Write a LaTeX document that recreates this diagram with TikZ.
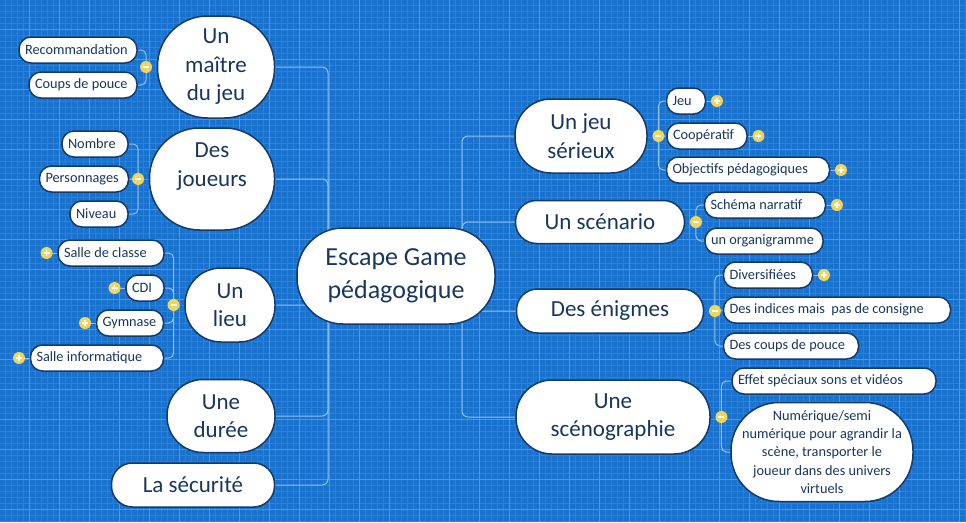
\documentclass[tikz,border=0pt]{standalone}
\usepackage{fontspec}
\setmainfont{Carlito}
\usetikzlibrary{positioning}
\definecolor{paperblue}{HTML}{1872CE}
\definecolor{fineline}{HTML}{2C81D6}
\definecolor{coarseline}{HTML}{4A98E2}
\definecolor{linkblue}{HTML}{8CC3EE}
\definecolor{inkish}{HTML}{17375E}
\definecolor{rimish}{HTML}{133A68}
\definecolor{knobish}{HTML}{F1D55B}
\newcommand\hubfont{\fontsize{26}{33}\selectfont}
\newcommand\topicfont{\fontsize{23}{28.5}\selectfont}
\newcommand\leaffont{\fontsize{14.3}{18.3}\selectfont}
\pgfdeclarelayer{paper}
\pgfdeclarelayer{background}
\pgfsetlayers{paper,background,main}

\begin{document}
\begin{tikzpicture}[
   x=1pt, y=-1pt,
   every node/.append style={align=center, text=inkish},
   box/.style={draw=rimish, fill=white, line width=1.5pt, inner sep=0pt},
   hub/.style={box, font=\hubfont, minimum width=198pt, minimum height=96pt, rounded corners=46pt},
   topic/.style={box, font=\topicfont, rounded corners=#1},
   leaf/.style={box, font=\leaffont, minimum height=26pt, rounded corners=12pt,
      inner xsep=6pt, text width=#1-12pt, align=flush left},
   knob/.style={circle, fill=knobish, inner sep=0pt, minimum size=12pt},
   knobminus/.style={knob, path picture={\draw[white, line width=1.2pt]
      ([xshift=-3pt]path picture bounding box.center) -- ([xshift=3pt]path picture bounding box.center);}},
   knobplus/.style={knob, path picture={\draw[white, line width=1.2pt]
      ([xshift=-3pt]path picture bounding box.center) -- ([xshift=3pt]path picture bounding box.center)
      ([yshift=-3pt]path picture bounding box.center) -- ([yshift=3pt]path picture bounding box.center);}},
   link/.style={draw=linkblue, line width=1pt, rounded corners=6pt},
   node distance=4.5pt
]

\useasboundingbox (0,0) rectangle (966,522);

% blueprint paper
\begin{pgfonlayer}{paper}
  \fill[paperblue] (0,0) rectangle (966,522);
  \foreach \x in {5,11,...,965} \draw[fineline, line width=0.7pt] (\x,0) -- (\x,522);
  \foreach \y in {5,11,...,521} \draw[fineline, line width=0.7pt] (0,\y) -- (966,\y);
  \foreach \x in {29,59,...,959} \draw[coarseline, line width=1pt] (\x,0) -- (\x,522);
  \foreach \y in {29,59,...,509} \draw[coarseline, line width=1pt] (0,\y) -- (966,\y);
\end{pgfonlayer}

% centre
\node[hub] (escape) at (396,276) {Escape Game\\pédagogique};
\coordinate (hubL) at (328,276);
\coordinate (hubR) at (462,276);

% left topics
\node[topic=50pt, minimum width=117pt, minimum height=102pt] (maitre) at (216,67) {Un\\maître\\du jeu};
\node[topic=50pt, minimum width=125pt, minimum height=102pt] (joueurs) at (212,179) {Des\\joueurs\\~};
\node[topic=36pt, minimum width=90pt, minimum height=74pt] (lieu) at (230,305) {Un\\lieu};
\node[topic=36pt, minimum width=108pt, minimum height=73pt] (duree) at (221,416) {Une\\durée};
\node[topic=21pt, minimum width=163pt, minimum height=44pt] (securite) at (193,485) {La sécurité};

% right topics
\node[topic=36pt, minimum width=132pt, minimum height=74pt] (serieux) at (581,136) {Un jeu\\sérieux};
\node[topic=21pt, minimum width=169pt, minimum height=43pt] (scenario) at (600,222) {Un scénario};
\node[topic=21pt, minimum width=187pt, minimum height=44pt] (enigmes) at (610,311) {Des énigmes};
\node[topic=36pt, minimum width=194pt, minimum height=74pt] (scenographie) at (613,417) {Une\\scénographie};

% leaves of the left topics
\node[leaf=118pt] (recommandation) at (78,50) {Recommandation};
\node[leaf=108pt] (coups) at (83,85) {Coups de pouce};
\node[leaf=66pt] (nombre) at (95,144) {Nombre};
\node[leaf=89pt] (personnages) at (84,179) {Personnages};
\node[leaf=58pt] (niveau) at (99,214) {Niveau};
\node[leaf=106pt] (classe) at (111,253) {Salle de classe};
\node[leaf=38pt] (cdi) at (145,288) {CDI};
\node[leaf=67pt] (gymnase) at (130,323) {Gymnase};
\node[leaf=133pt] (informatique) at (97,358) {Salle informatique};

% leaves of the right topics
\node[leaf=39pt] (jeu) at (686,101) {Jeu};
\node[leaf=80pt] (cooperatif) at (707,136) {Coopératif};
\node[leaf=163pt] (objectifs) at (748,170) {Objectifs pédagogiques};
\node[leaf=121pt] (schema) at (765,205) {Schéma narratif};
\node[leaf=118pt] (organigramme) at (764,241) {un organigramme};
\node[leaf=89pt] (diversifiees) at (768,275) {Diversifiées};
\node[leaf=227pt] (indices) at (837,310) {Des indices mais~ pas de consigne};
\node[leaf=135pt] (pouce) at (791,346) {Des coups de pouce};
\node[leaf=204pt] (effets) at (834,381) {Effet spéciaux sons et vidéos};
\node[box, font=\leaffont, minimum width=182pt, minimum height=99pt, rounded corners=48pt] (numerique) at (822,452)
  {Numérique/semi\\numérique pour agrandir la\\scène, transporter le\\joueur dans des univers\\virtuels};

% knobs
\node[knobminus, left=of maitre] (kmaitre) {};
\node[knobminus, left=of joueurs] (kjoueurs) {};
\node[knobminus, left=of lieu] (klieu) {};
\node[knobminus, right=of serieux] (kserieux) {};
\node[knobminus, right=of scenario] (kscenario) {};
\node[knobminus, right=of enigmes] (kenigmes) {};
\node[knobminus, right=of scenographie] (kscenographie) {};
\node[knobplus, left=of classe] (kclasse) {};
\node[knobplus, left=of cdi] (kcdi) {};
\node[knobplus, left=of gymnase] (kgymnase) {};
\node[knobplus, left=of informatique] (kinformatique) {};
\node[knobplus, right=of jeu] (kjeu) {};
\node[knobplus, right=of cooperatif] (kcooperatif) {};
\node[knobplus, right=of objectifs] (kobjectifs) {};
\node[knobplus, right=of schema] (kschema) {};
\node[knobplus, right=of diversifiees] (kdiversifiees) {};

% connectors
\begin{pgfonlayer}{background}
  \foreach \t in {maitre,joueurs,lieu,duree,securite}
    \draw[link] (hubL) |- (\t.east);
  \foreach \t in {serieux,scenario,enigmes,scenographie}
    \draw[link] (hubR) |- (\t.west);
  \foreach \l in {recommandation,coups}
    \draw[link, rounded corners=5pt] (kmaitre.center) |- (\l.east);
  \foreach \l in {nombre,personnages,niveau}
    \draw[link, rounded corners=5pt] (kjoueurs.center) |- (\l.east);
  \foreach \l in {classe,cdi,gymnase,informatique}
    \draw[link, rounded corners=5pt] (klieu.center) |- (\l.east);
  \foreach \l in {jeu,cooperatif,objectifs}
    \draw[link, rounded corners=5pt] (kserieux.center) |- (\l.west);
  \foreach \l in {schema,organigramme}
    \draw[link, rounded corners=5pt] (kscenario.center) |- (\l.west);
  \foreach \l in {diversifiees,indices,pouce}
    \draw[link, rounded corners=5pt] (kenigmes.center) |- (\l.west);
  \foreach \l in {effets,numerique}
    \draw[link, rounded corners=5pt] (kscenographie.center) |- (\l.west);
  \foreach \l in {classe,cdi,gymnase,informatique}
    \draw[link] (\l.west) -- (k\l.center);
  \foreach \l in {jeu,cooperatif,objectifs,schema,diversifiees}
    \draw[link] (\l.east) -- (k\l.center);
\end{pgfonlayer}
\end{tikzpicture}
\end{document}
